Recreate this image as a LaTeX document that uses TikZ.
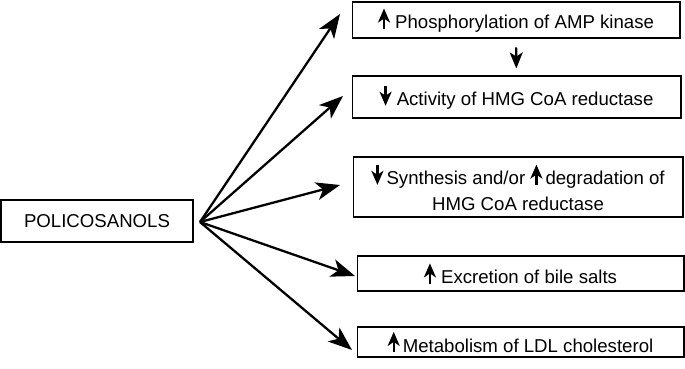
\documentclass[tikz,border=0pt]{standalone}
\usepackage{fontspec}
\setmainfont{Liberation Sans}
\usetikzlibrary{arrows.meta,positioning}

\newcommand{\uparr}{\tikz[baseline=-2pt]\draw[-{Stealth[length=2.8mm,width=2.4mm,inset=0.8mm]},line width=1.3pt] (0,-2pt)--(0,9.5pt);}
\newcommand{\downarr}{\tikz[baseline=-2pt]\draw[-{Stealth[length=2.8mm,width=2.4mm,inset=0.8mm]},line width=1.3pt] (0,9.5pt)--(0,-2pt);}

\begin{document}
\begin{tikzpicture}[x=0.02cm,y=-0.02cm,
  box/.style={draw,line width=0.6pt,align=center,inner sep=0pt,
    font=\fontsize{10.6}{14.5}\selectfont},
  arrow/.style={-{Stealth[length=4.8mm,width=3.6mm,inset=1.3mm]},line width=1.3pt},
  smallarrow/.style={-{Stealth[length=3.2mm,width=2.6mm,inset=0.8mm]},line width=1.2pt}]
\useasboundingbox (0,0) rectangle (685,368);
\node[box,minimum width=3.84cm,minimum height=0.84cm] (poli) at (97,221) {POLICOSANOLS};
\node[box,minimum width=6.56cm,minimum height=0.72cm] (kin) at (516,20) {\uparr\ Phosphorylation of AMP kinase};
\node[box,minimum width=6.58cm,minimum height=0.84cm] (act) at (516.5,97) {\downarr\ Activity of HMG CoA reductase};
\node[box,minimum width=6.6cm,minimum height=1.2cm] (syn) at (518,187) {\downarr\,Synthesis and/or \uparr\,degradation of\\HMG CoA reductase};
\node[box,minimum width=6.54cm,minimum height=0.7cm] (bile) at (520.5,273.5) {\uparr\ Excretion of bile salts};
\node[box,minimum width=6.54cm,minimum height=0.6cm] (ldl) at (520.5,342) {\uparr\,Metabolism of LDL cholesterol};
\coordinate (src) at (200,222);
\coordinate (tkin) at (340,14);
\coordinate (tact) at (343,96);
\coordinate (tsyn) at (340,185);
\coordinate (tbile) at (355,276);
\coordinate (tldl) at (352,350);
\foreach \t in {tkin,tact,tsyn,tbile,tldl}
  \draw[arrow] (src) -- (\t);
\draw[smallarrow,shorten <=5pt,shorten >=4pt] (kin) -- (act);
\end{tikzpicture}
\end{document}
